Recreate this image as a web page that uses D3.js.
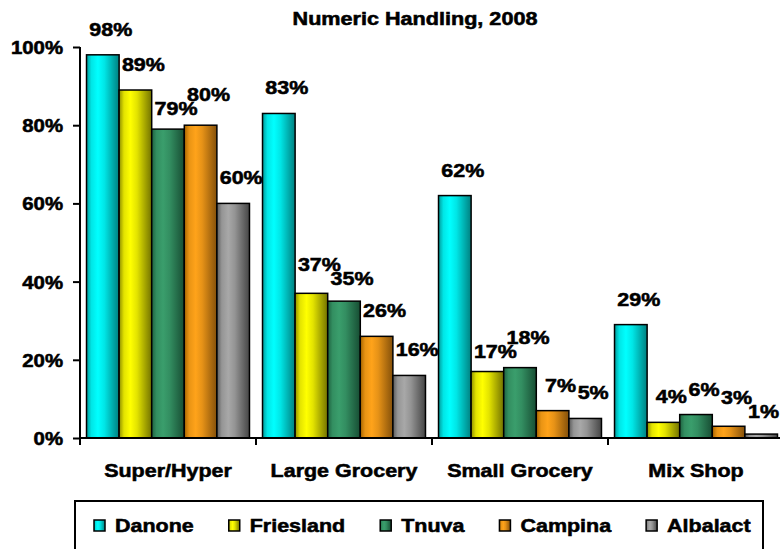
<!DOCTYPE html>
<html>
<head>
<meta charset="utf-8">
<script src="https://cdn.jsdelivr.net/npm/d3@7"></script>
<style>
  html, body { margin: 0; padding: 0; background: #ffffff; }
  svg { display: block; }
  text { font-family: "Liberation Sans", Arial, sans-serif; font-weight: bold; fill: #000; stroke: #000; stroke-width: 0.55px; }
</style>
</head>
<body>
<svg id="chart" width="780" height="549"></svg>
<script>
// ---- data ----
const title = "Numeric Handling, 2008";
const categories = ["Super/Hyper", "Large Grocery", "Small Grocery", "Mix Shop"];
const seriesNames = ["Danone", "Friesland", "Tnuva", "Campina", "Albalact"];
const danone    = [0.98, 0.83, 0.62, 0.29];
const friesland = [0.89, 0.37, 0.17, 0.04];
const tnuva     = [0.79, 0.35, 0.18, 0.06];
const campina   = [0.80, 0.26, 0.07, 0.03];
const albalact  = [0.60, 0.16, 0.05, 0.01];
const yTicks = [0, 0.2, 0.4, 0.6, 0.8, 1.0];

const seriesValues = [danone, friesland, tnuva, campina, albalact];
// colour ramps: [edge-dark, bright, right-dark]
const seriesColors = [
  ["#009a9a", "#00ffff", "#008080"],
  ["#8f8f00", "#ffff00", "#737300"],
  ["#1e6240", "#3a9e6c", "#174d33"],
  ["#a86500", "#ffa31a", "#84500a"],
  ["#5a5a5a", "#a8a8a8", "#454545"]
];

const STRETCH = 1.13;
function stretch(sel, f) {
  sel.each(function () {
    const w = this.getComputedTextLength();
    this.setAttribute("textLength", w * f);
    this.setAttribute("lengthAdjust", "spacingAndGlyphs");
    this.__w = w * f;
  });
}

const svg = d3.select("#chart");
svg.append("rect").attr("width", 780).attr("height", 549).attr("fill", "#fff");

// gradients
const defs = svg.append("defs");
seriesNames.forEach((s, i) => {
  const c = seriesColors[i];
  const g = defs.append("linearGradient").attr("id", "grad" + i)
    .attr("x1", "0%").attr("x2", "100%").attr("y1", "0%").attr("y2", "0%");
  g.append("stop").attr("offset", "0%").attr("stop-color", c[0]);
  g.append("stop").attr("offset", "15%").attr("stop-color", d3.interpolateRgb(c[0], c[1])(0.75));
  g.append("stop").attr("offset", "35%").attr("stop-color", c[1]);
  g.append("stop").attr("offset", "55%").attr("stop-color", d3.interpolateRgb(c[1], c[2])(0.2));
  g.append("stop").attr("offset", "100%").attr("stop-color", c[2]);
});

// scales
const x0 = d3.scaleBand().domain(categories).range([80, 784]).paddingInner(0).paddingOuter(0);
const x1 = d3.scaleBand().domain(seriesNames).range([0, x0.bandwidth()]).paddingInner(0).paddingOuter(0.2);
const y = d3.scaleLinear().domain([0, 1]).range([438, 47]);

// title
const t = svg.append("text").attr("x", 415).attr("y", 25).attr("text-anchor", "middle")
  .style("font-size", "18px").text(title);
stretch(t, 1.2);

// bars
const flat = [];
categories.forEach((c, ci) => {
  seriesNames.forEach((s, si) => {
    flat.push({ cat: c, ci, s, si, v: seriesValues[si][ci] });
  });
});

svg.append("g").selectAll("rect").data(flat).join("rect")
  .attr("x", d => x0(d.cat) + x1(d.s))
  .attr("y", d => y(d.v))
  .attr("width", x1.bandwidth())
  .attr("height", d => y(0) - y(d.v))
  .attr("fill", d => `url(#grad${d.si})`)
  .attr("stroke", "#000").attr("stroke-width", 1.5);

// y axis
const yAxis = svg.append("g").attr("transform", "translate(80,0)")
  .call(d3.axisLeft(y).tickValues(yTicks).tickFormat(d3.format(".0%")).tickSize(7).tickPadding(10));
yAxis.select(".domain").attr("stroke", "#000").attr("stroke-width", 2).attr("d", `M0,${y(1)}V${y(0)}`);
yAxis.selectAll(".tick line").attr("stroke", "#000").attr("stroke-width", 2);
yAxis.selectAll(".tick text").style("font-size", "18px").attr("dy", "0.36em")
  .style("font-family", '"Liberation Sans", Arial, sans-serif').style("font-weight", "bold")
  .attr("fill", "#000").attr("stroke", "#000").attr("stroke-width", 0.55);
stretch(yAxis.selectAll(".tick text"), STRETCH);

// x axis
const xAxis = svg.append("g").attr("transform", `translate(0,${y(0)})`);
xAxis.append("line").attr("x1", 80).attr("x2", 784).attr("y1", 0).attr("y2", 0)
  .attr("stroke", "#000").attr("stroke-width", 2);
const bounds = categories.map(c => x0(c)).concat([x0(categories[categories.length - 1]) + x0.bandwidth()]);
xAxis.selectAll("line.tk").data(bounds).join("line").attr("class", "tk")
  .attr("x1", d => d).attr("x2", d => d).attr("y1", 0).attr("y2", 7)
  .attr("stroke", "#000").attr("stroke-width", 2);
const catLabels = xAxis.selectAll("text.cat").data(categories).join("text").attr("class", "cat")
  .attr("x", d => x0(d) + x0.bandwidth() / 2).attr("y", 39)
  .attr("text-anchor", "middle").style("font-size", "19px").text(d => d);
stretch(catLabels, STRETCH);

// data labels
const labels = svg.append("g").selectAll("text").data(flat).join("text")
  .attr("text-anchor", "middle").style("font-size", "19px")
  .text(d => d3.format(".0%")(d.v));
stretch(labels, STRETCH);
labels.each(function (d) {
  d.lw = this.__w;
  let lx = x0(d.cat) + x1(d.s) + x1.bandwidth() / 2 + 8;
  lx = Math.min(lx, 780 - d.lw / 2 - 1);
  d.lx = lx;
  d.ly = y(d.v) - 19;
});
// simple collision separation between neighbouring labels
categories.forEach((c, ci) => {
  const g = flat.filter(d => d.ci === ci);
  for (let i = 0; i < g.length - 1; i++) {
    const a = g[i], b = g[i + 1];
    const hOverlap = Math.abs(a.lx - b.lx) < (a.lw + b.lw) / 2 - 1;
    const diff = b.ly - a.ly;
    if (hOverlap && Math.abs(diff) < 14) {
      const need = (14 - Math.abs(diff)) / 2;
      const sgn = diff >= 0 ? 1 : -1;
      a.ly -= sgn * need;
      b.ly += sgn * need;
    }
  }
});
labels.attr("x", d => d.lx).attr("y", d => d.ly);

// legend
const legend = svg.append("g");
legend.append("rect").attr("x", 75).attr("y", 501).attr("width", 688).attr("height", 70)
  .attr("fill", "#fff").attr("stroke", "#000").attr("stroke-width", 2);
let lx = 94;
seriesNames.forEach((s, i) => {
  legend.append("rect").attr("x", lx).attr("y", 520).attr("width", 11).attr("height", 11)
    .attr("fill", `url(#grad${i})`).attr("stroke", "#000").attr("stroke-width", 1.5);
  const tx = legend.append("text").attr("x", lx + 21).attr("y", 532).style("font-size", "19px").text(s);
  stretch(tx, STRETCH);
  lx = lx + 21 + tx.node().__w + 35;
});
</script>
</body>
</html>
